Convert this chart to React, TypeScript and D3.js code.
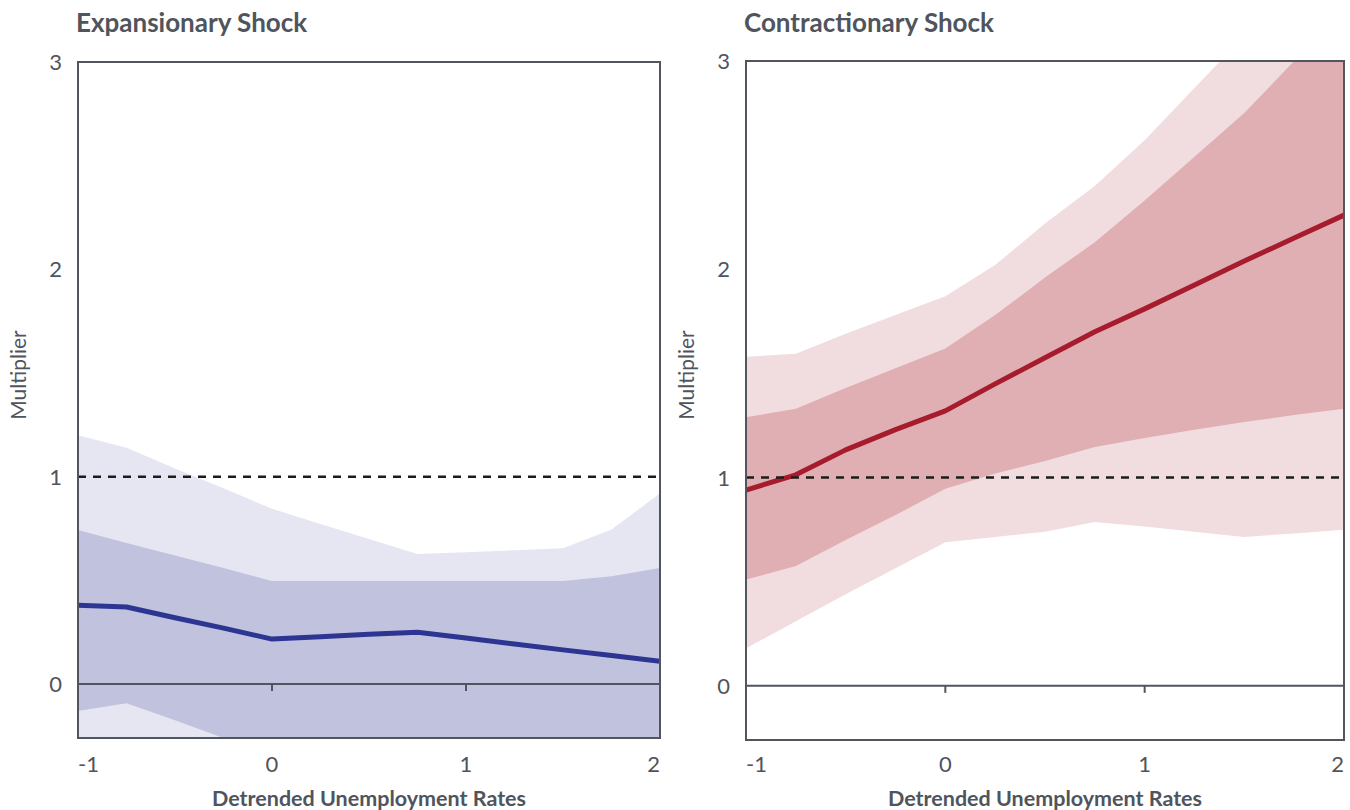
import * as d3 from "d3";

// shared x grid (detrended unemployment rate)
const xGrid = [-1, -0.75, -0.5, -0.25, 0, 0.25, 0.5, 0.75, 1, 1.25, 1.5, 1.75, 2];

// expansionary shock
const expMid = [0.38, 0.372, 0.32, 0.27, 0.217, 0.228, 0.24, 0.25, 0.222, 0.193, 0.165, 0.138, 0.11];
const expInnerHi = [0.743, 0.68, 0.62, 0.56, 0.497, 0.497, 0.497, 0.497, 0.497, 0.497, 0.497, 0.52, 0.56];
const expInnerLo = [-0.13, -0.092, -0.175, -0.26, -0.35, -0.4, -0.4, -0.4, -0.4, -0.4, -0.4, -0.4, -0.4];
const expOuterHi = [1.2, 1.14, 1.04, 0.945, 0.845, 0.772, 0.7, 0.627, 0.636, 0.645, 0.655, 0.745, 0.92];
const expOuterLo = [-0.6, -0.6, -0.6, -0.6, -0.6, -0.6, -0.6, -0.6, -0.6, -0.6, -0.6, -0.6, -0.6];

// contractionary shock
const conMid = [0.94, 1.013, 1.133, 1.23, 1.32, 1.45, 1.575, 1.7, 1.81, 1.925, 2.04, 2.15, 2.26];
const conInnerHi = [1.29, 1.33, 1.43, 1.525, 1.62, 1.78, 1.96, 2.13, 2.33, 2.54, 2.75, 3.0, 3.25];
const conInnerLo = [0.51, 0.575, 0.7, 0.82, 0.946, 1.02, 1.08, 1.147, 1.19, 1.23, 1.267, 1.3, 1.33];
const conOuterHi = [1.58, 1.595, 1.69, 1.78, 1.87, 2.02, 2.22, 2.4, 2.62, 2.87, 3.12, 3.36, 3.6];
const conOuterLo = [0.18, 0.31, 0.44, 0.565, 0.69, 0.715, 0.74, 0.787, 0.765, 0.74, 0.715, 0.732, 0.749];

const xTicks = [-1, 0, 1, 2];
const yTicks = [0, 1, 2, 3];

const axisColor = "#51555d";
const textColor = "#50545c";
const font = "Lato, 'Open Sans', sans-serif";

type PanelProps = {
  id: string;
  title: string;
  left: number;
  right: number;
  top: number;
  bottom: number;
  mid: number[];
  innerHi: number[];
  innerLo: number[];
  outerHi: number[];
  outerLo: number[];
  lineColor: string;
  innerColor: string;
  outerColor: string;
};

const Panel = (p: PanelProps) => {
  const x = d3.scaleLinear().domain([-1, 2]).range([p.left, p.right]);
  const y = d3.scaleLinear().domain([-0.26, 3]).range([p.bottom, p.top]);

  const band = (lo: number[], hi: number[]) =>
    d3.area<number>()
      .x((d) => x(d))
      .y0((_, i) => y(lo[i]))
      .y1((_, i) => y(hi[i]))(xGrid) || "";

  const line = d3.line<number>()
    .x((d) => x(d))
    .y((_, i) => y(p.mid[i]))(xGrid) || "";

  return (
    <g>
      <defs>
        <clipPath id={`clip-${p.id}`}>
          <rect x={p.left} y={p.top} width={p.right - p.left} height={p.bottom - p.top} />
        </clipPath>
      </defs>
      <text x={p.left - 2} y={32} fontFamily={font} fontWeight="bold" fontSize={26} fill={textColor}>
        {p.title}
      </text>
      <g clipPath={`url(#clip-${p.id})`}>
        <path d={band(p.outerLo, p.outerHi)} fill={p.outerColor} />
        <path d={band(p.innerLo, p.innerHi)} fill={p.innerColor} />
        <path d={line} fill="none" stroke={p.lineColor} strokeWidth={5} strokeLinejoin="round" />
      </g>
      {/* reference line at multiplier = 1 */}
      <line x1={p.left} x2={p.right} y1={y(1)} y2={y(1)} stroke="#1c1c1c" strokeWidth={2.5} strokeDasharray="8 7" />
      {/* zero line with ticks */}
      <line x1={p.left} x2={p.right} y1={y(0)} y2={y(0)} stroke={axisColor} strokeWidth={2} />
      {xTicks.slice(1, -1).map((t) => (
        <line key={t} x1={x(t)} x2={x(t)} y1={y(0)} y2={y(0) + 7} stroke={axisColor} strokeWidth={2} />
      ))}
      <rect x={p.left} y={p.top} width={p.right - p.left} height={p.bottom - p.top} fill="none" stroke={axisColor} strokeWidth={2} />
      {yTicks.map((t) => (
        <text key={t} x={p.left - 16} y={y(t) + 8} textAnchor="end" fontFamily={font} fontSize={22} fill={textColor}>
          {t}
        </text>
      ))}
      {xTicks.map((t, i) => (
        <text
          key={t}
          x={x(t)}
          y={772}
          textAnchor={i === 0 ? "start" : i === xTicks.length - 1 ? "end" : "middle"}
          fontFamily={font}
          fontSize={22}
          fill={textColor}
        >
          {t}
        </text>
      ))}
      <text
        transform={`translate(${p.left - 52},375) rotate(-90)`}
        textAnchor="middle"
        fontFamily={font}
        fontSize={21}
        fill={textColor}
      >
        Multiplier
      </text>
      <text x={(p.left + p.right) / 2} y={806} textAnchor="middle" fontFamily={font} fontWeight="bold" fontSize={21.5} fill={textColor}>
        Detrended Unemployment Rates
      </text>
    </g>
  );
};

const App = () => {
  return (
    <svg width={1350} height={810} style={{ position: "absolute", left: 0, top: 0, background: "#fff" }}>
      <Panel
        id="exp"
        title="Expansionary Shock"
        left={78}
        right={660}
        top={62}
        bottom={738}
        mid={expMid}
        innerHi={expInnerHi}
        innerLo={expInnerLo}
        outerHi={expOuterHi}
        outerLo={expOuterLo}
        lineColor="#2c3591"
        innerColor="#c1c2de"
        outerColor="#e5e6f2"
      />
      <Panel
        id="con"
        title="Contractionary Shock"
        left={746}
        right={1344}
        top={61}
        bottom={740}
        mid={conMid}
        innerHi={conInnerHi}
        innerLo={conInnerLo}
        outerHi={conOuterHi}
        outerLo={conOuterLo}
        lineColor="#a61c2d"
        innerColor="#dfafb3"
        outerColor="#f1dcdf"
      />
    </svg>
  );
};

export default App;
